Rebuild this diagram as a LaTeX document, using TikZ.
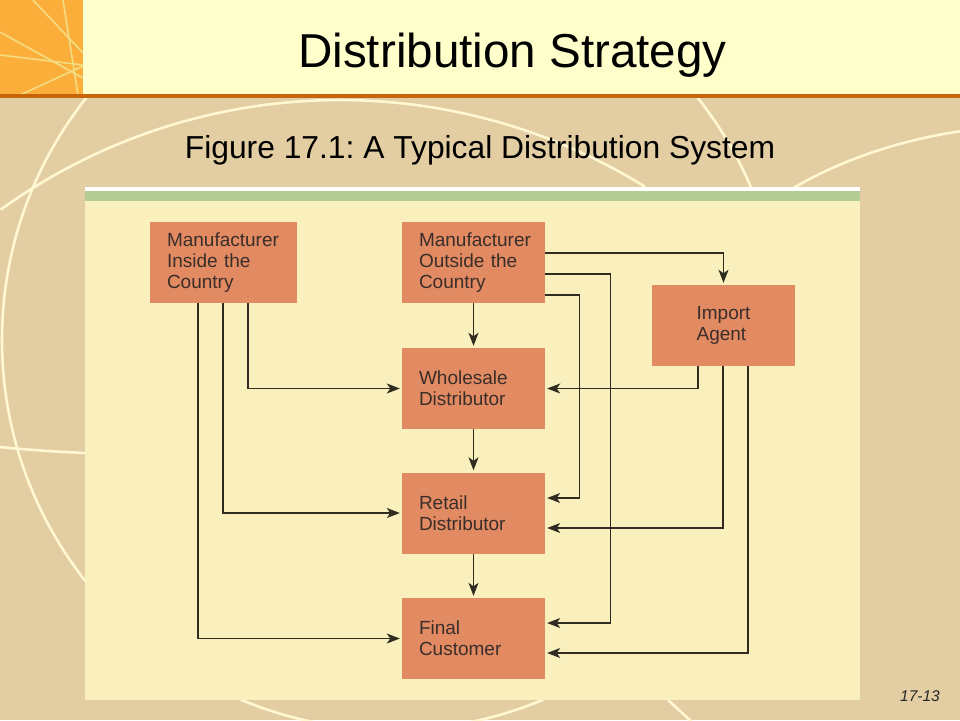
\documentclass[tikz,border=0pt]{standalone}
\usepackage{fontspec}
\setmainfont{Liberation Sans}
\usetikzlibrary{arrows.meta}
\frenchspacing
\definecolor{tanbg}{HTML}{E3CDA3}
\definecolor{topband}{HTML}{FFFFCC}
\definecolor{orangesq}{HTML}{FBAF3A}
\definecolor{orangeline}{HTML}{C8650A}
\definecolor{sqline}{HTML}{F3DC82}
\definecolor{arcwhite}{HTML}{FFF8D2}
\definecolor{panelbg}{HTML}{F9F0BE}
\definecolor{greenband}{HTML}{B3CC96}
\definecolor{boxfill}{HTML}{E28A62}
\definecolor{boxtext}{HTML}{3A2E2A}
\definecolor{linec}{HTML}{302C22}
\tikzset{
  arcline/.style={draw=arcwhite, line width=2.6pt},
  sqstroke/.style={draw=sqline, line width=1.6pt},
  boxnode/.style={fill=boxfill, draw=none, minimum height=81pt, inner sep=0pt,
    font=\fontsize{19}{21}\selectfont, text=boxtext, align=left},
  leftbox/.style={boxnode, minimum width=143pt, text width=109pt, inner xsep=17pt},
  conn/.style={draw=linec, line width=1.2pt},
  arr/.style={conn, -{Stealth[length=13pt,width=10pt,inset=3.5pt]}, shorten >=2pt}
}
\begin{document}
\begin{tikzpicture}[x=1pt,y=-1pt]
\useasboundingbox (0,0) rectangle (960,720);
% background
\fill[tanbg] (0,0) rectangle (960,720);
\begin{scope}
  \clip (0,96) rectangle (960,720);
  \draw[arcline] (392,340) circle[radius=390];
  \draw[arcline] (340,680) ++(234.2:580) arc[start angle=234.2, end angle=301.7, radius=580];
  \draw[arcline] (0,447) .. controls (30,450) and (60,452) .. (86,453);
  \draw[arcline] (790,190) .. controls (840,160) and (900,140) .. (962,131);
  \draw[arcline] (668,700) -- (692,722);
\end{scope}
% top band
\fill[topband] (0,0) rectangle (960,95);
\fill[orangesq] (0,0) rectangle (83,95);
\begin{scope}
  \clip (0,0) rectangle (83,95);
  \draw[sqstroke] (33,0) -- (83,53);
  \draw[sqstroke] (63,0) -- (78,95);
  \draw[sqstroke] (0,32) -- (83,78);
  \draw[sqstroke] (0,55) -- (83,65);
  \draw[sqstroke] (20,95) -- (83,66);
\end{scope}
\fill[orangeline] (0,94) rectangle (960,98);
% titles
\node[anchor=base, font=\fontsize{47.6}{50}\selectfont, text=black, inner sep=0pt] (title) at (512.5,67) {Distribution Strategy};
\node[anchor=base, font=\fontsize{31.8}{34}\selectfont, text=black, inner sep=0pt] (subtitle) at (480,158) {Figure 17.1: A Typical Distribution System};
\node[anchor=base east, font=\fontsize{15.5}{18}\selectfont\itshape, text=black!85, inner sep=0pt] (pagenum) at (940,701) {17-13};
% panel
\fill[white] (85,187) rectangle (860,191);
\fill[greenband] (85,191) rectangle (860,201);
\fill[panelbg] (85,201) rectangle (860,700);
% boxes
\node[boxnode, minimum width=147pt, text width=113pt, inner xsep=17pt] (MIC) at (223.5,262.5) {Manufacturer\\Inside the\\Country};
\node[leftbox] (MOC) at (473.5,262.5) {Manufacturer\\Outside the\\Country};
\node[boxnode, minimum width=143pt] (IA) at (723.5,325.5) {Import\\Agent};
\node[leftbox] (WD) at (473.5,388.5) {Wholesale\\Distributor};
\node[leftbox] (RD) at (473.5,513) {Retail\\Distributor};
\node[leftbox] (FC) at (473.5,638.5) {Final\\Customer};
% vertical chain
\draw[arr] (MOC.south) -- (WD.north);
\draw[arr] (WD.south) -- (RD.north);
\draw[arr] (RD.south) -- (FC.north);
% manufacturer inside the country
\draw[arr] ([xshift=24.5pt]MIC.south) |- (WD.west);
\draw[arr] ([xshift=-0.5pt]MIC.south) |- (RD.west);
\draw[arr] ([xshift=-25.5pt]MIC.south) |- (FC.west);
% manufacturer outside the country
\draw[arr] ([yshift=9.5pt]MOC.east) -| (IA.north);
\draw[arr] ([yshift=-11.5pt]MOC.east) -- ++(65,0) |- ([yshift=15.5pt]FC.east);
\draw[arr] ([yshift=-32.5pt]MOC.east) -- ++(34,0) |- ([yshift=15pt]RD.east);
% import agent
\draw[arr] ([xshift=-25.5pt]IA.south) |- (WD.east);
\draw[arr] ([xshift=-0.5pt]IA.south) |- ([yshift=-15pt]RD.east);
\draw[arr] ([xshift=24.5pt]IA.south) |- ([yshift=-14.5pt]FC.east);
\end{tikzpicture}
\end{document}
